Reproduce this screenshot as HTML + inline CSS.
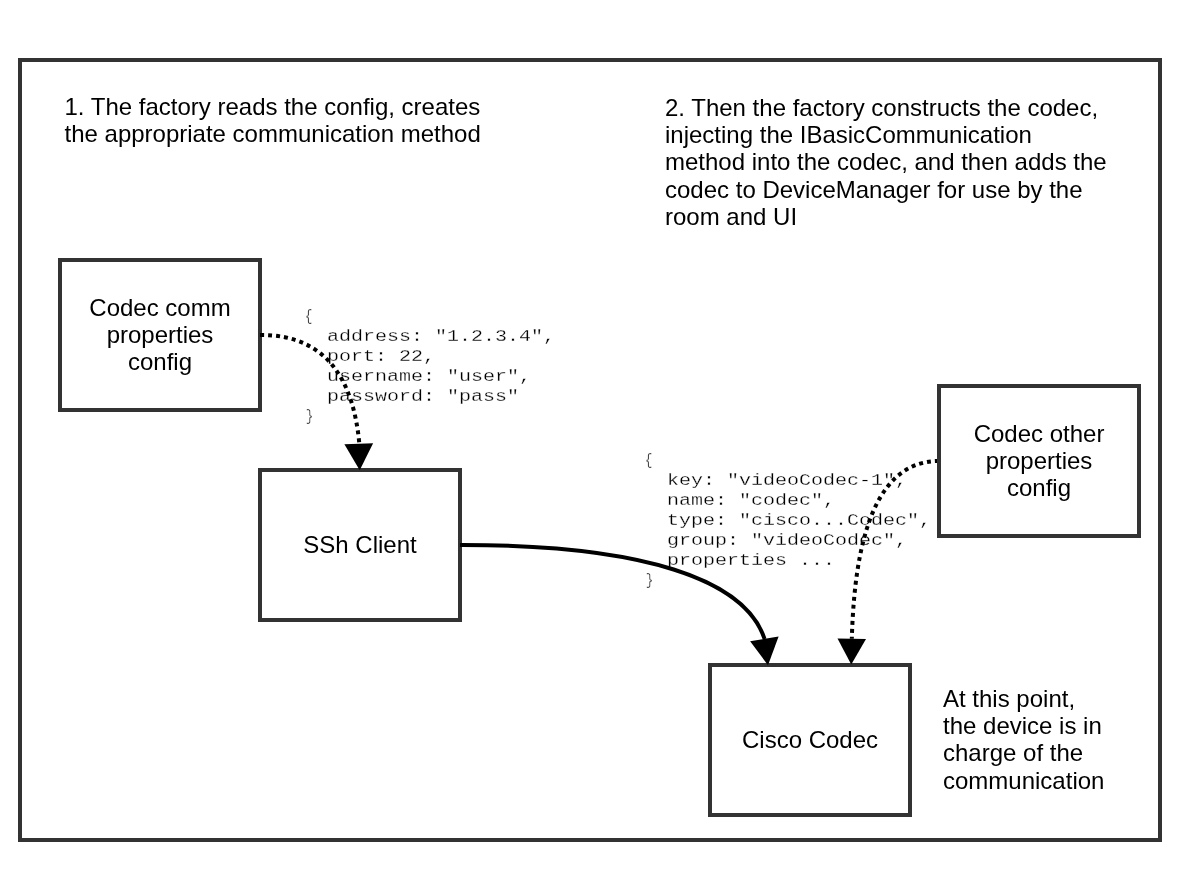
<!DOCTYPE html>
<html>
<head>
<meta charset="utf-8">
<style>
html,body{margin:0;padding:0;background:#ffffff;}
body{width:1200px;height:880px;position:relative;overflow:hidden;will-change:transform;font-family:"Liberation Sans",sans-serif;color:#000;}
svg{position:absolute;left:0;top:0;}
.t{position:absolute;font-size:24px;line-height:27.2px;white-space:nowrap;color:#000;}
.c{text-align:center;}
.code{position:absolute;font-family:"Liberation Mono",monospace;font-size:20px;line-height:20px;white-space:pre;color:#000;-webkit-text-stroke:0.3px #fff;transform-origin:0 15px;transform:scaleY(0.87);}
.br{position:absolute;font-family:"Liberation Mono",monospace;font-size:16px;line-height:16px;white-space:pre;color:#000;-webkit-text-stroke:0.4px #fff;transform-origin:4px 0;transform:scaleX(0.8);}
</style>
</head>
<body>
<div class="code" style="left:303px;top:326px;">  address: "1.2.3.4",</div>
<div class="code" style="left:303px;top:346px;">  port: 22,</div>
<div class="code" style="left:303px;top:366px;">  username: "user",</div>
<div class="code" style="left:303px;top:386px;">  password: "pass"</div>
<div class="code" style="left:643px;top:470px;">  key: "videoCodec-1",</div>
<div class="code" style="left:643px;top:490px;">  name: "codec",</div>
<div class="code" style="left:643px;top:510px;">  type: "cisco...Codec",</div>
<div class="code" style="left:643px;top:530px;">  group: "videoCodec",</div>
<div class="code" style="left:643px;top:550px;">  properties ...</div>
<div class="br" style="left:304.4px;top:309px;">{</div>
<div class="br" style="left:304.5px;top:408.5px;">}</div>
<div class="br" style="left:644.4px;top:453px;">{</div>
<div class="br" style="left:645px;top:572.5px;">}</div>
<svg width="1200" height="880" viewBox="0 0 1200 880">
  <g fill="none" stroke="#333333" stroke-width="4">
    <rect x="20" y="60" width="1140" height="780"/>
    <rect x="60" y="260" width="200" height="150"/>
    <rect x="260" y="470" width="200" height="150"/>
    <rect x="710" y="665" width="200" height="150"/>
  </g>
  <g fill="none" stroke="#000" stroke-width="4">
    <path d="M260 335 C330.75 334.33 354.09 386.38 359.3 443.5" stroke-dasharray="4 4"/>
    <path d="M460 545 C643.13 544.71 745.03 579.31 764.6 639"/>
    <path d="M939 461 C866.24 460.95 854.02 565.18 851.8 638.8" stroke-dasharray="4 4"/>
  </g>
  <g fill="#000" stroke="none">
    <polygon points="344.4,444.3 373.1,443.2 359.7,470.2"/>
    <polygon points="750.1,641.3 778.6,636.4 768,665.2"/>
    <polygon points="837.5,638.5 866,639 851.25,664.4"/>
  </g>
  <rect x="939" y="386" width="200" height="150" fill="none" stroke="#333333" stroke-width="4"/>
</svg>

<div class="t" style="left:64.5px;top:93px;">1. The factory reads the config, creates<br>the appropriate communication method</div>
<div class="t" style="left:665px;top:94px;">2. Then the factory constructs the codec,<br>injecting the IBasicCommunication<br>method into the codec, and then adds the<br>codec to DeviceManager for use by the<br>room and UI</div>
<div class="t" style="left:943px;top:685px;">At this point,<br>the device is in<br>charge of the<br>communication</div>

<div class="t c" style="left:60px;top:294px;width:200px;">Codec comm<br>properties<br>config</div>
<div class="t c" style="left:260px;top:531px;width:200px;">SSh Client</div>
<div class="t c" style="left:939px;top:420px;width:200px;">Codec other<br>properties<br>config</div>
<div class="t c" style="left:710px;top:726px;width:200px;">Cisco Codec</div>

</body>
</html>
